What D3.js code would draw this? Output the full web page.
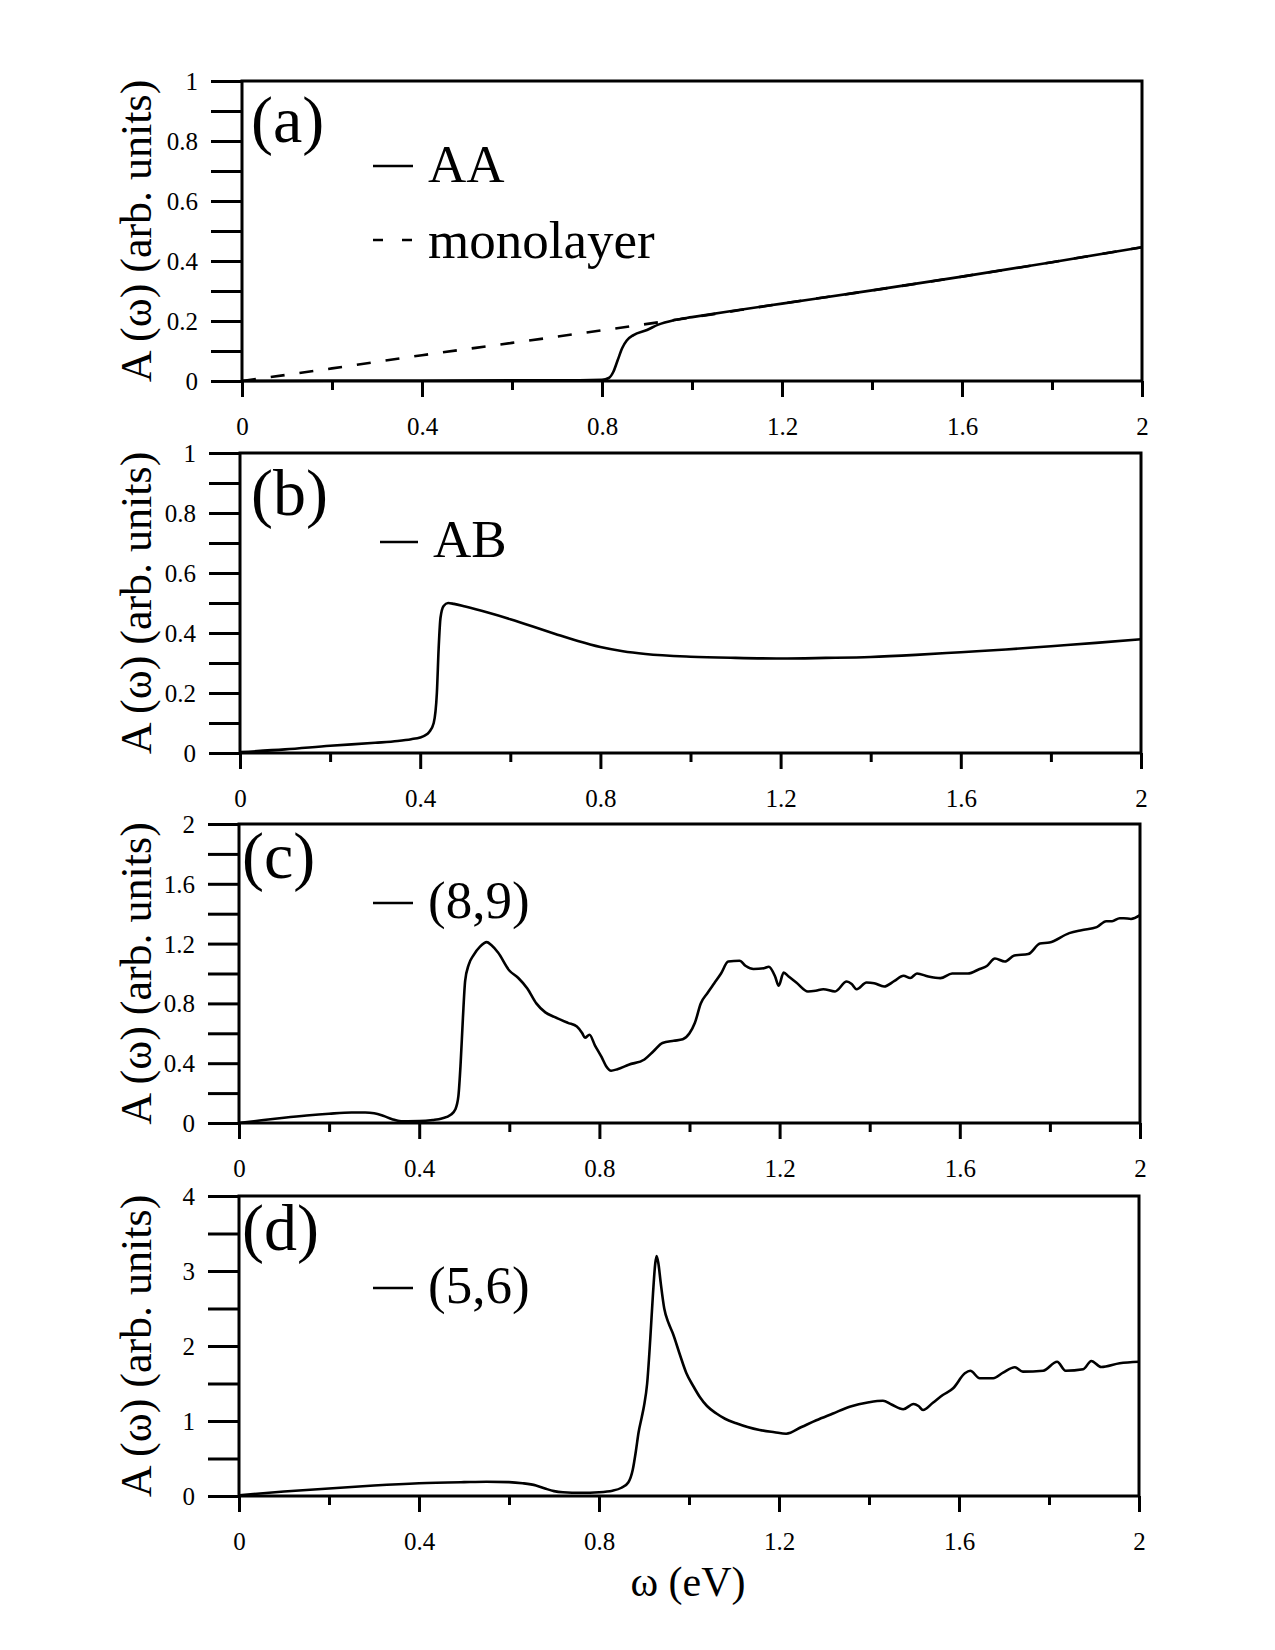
<!DOCTYPE html>
<html>
<head>
<meta charset="utf-8">
<script src="https://cdn.jsdelivr.net/npm/d3@7"></script>
<style>
  body { margin: 0; background: #fff; }
  svg text { font-family: "Liberation Serif", "Times New Roman", serif; fill: #000; }
</style>
</head>
<body>
<svg id="chart" width="1275" height="1650"></svg>
<script>
// ---------------- DATA ----------------
const xMajorTicks = [0, 0.4, 0.8, 1.2, 1.6, 2];
const xMinorTicks = [0.2, 0.6, 1.0, 1.4, 1.8];

const yTicksAB = [0, 0.2, 0.4, 0.6, 0.8, 1];
const yMinorAB = [0.1, 0.3, 0.5, 0.7, 0.9];
const yTicksC = [0, 0.4, 0.8, 1.2, 1.6, 2];
const yMinorC = [0.2, 0.6, 1.0, 1.4, 1.8];
const yTicksD = [0, 1, 2, 3, 4];
const yMinorD = [0.5, 1.5, 2.5, 3.5];

const panelLabels = ["(a)", "(b)", "(c)", "(d)"];
const yAxisTitle = "A (ω) (arb. units)";
const xAxisTitle = "ω (eV)";

// (a) AA bilayer
const aaOmega = [0, 0.2, 0.4, 0.6, 0.7, 0.8, 0.815, 0.825, 0.835, 0.845, 0.855, 0.87, 0.9, 0.925, 0.96, 1.0, 1.1, 1.2, 1.4, 1.6, 1.8, 2.0];
const aaA     = [0, 0.001, 0.001, 0.002, 0.002, 0.004, 0.01, 0.03, 0.07, 0.11, 0.135, 0.153, 0.17, 0.188, 0.203, 0.213, 0.236, 0.258, 0.302, 0.348, 0.396, 0.446];

// (a) monolayer
const monoOmega = [0, 0.2, 0.4, 0.6, 0.8, 1.0, 1.2, 1.4, 1.6, 1.8, 2.0];
const monoA     = [0, 0.042, 0.086, 0.127, 0.169, 0.212, 0.258, 0.302, 0.348, 0.396, 0.446];

// (b) AB bilayer
const abOmega = [0, 0.1, 0.2, 0.3, 0.35, 0.38, 0.4, 0.41, 0.42, 0.43, 0.437, 0.441, 0.445, 0.452, 0.462, 0.475, 0.5, 0.55, 0.6, 0.65, 0.7, 0.75, 0.8, 0.85, 0.9, 1.0, 1.1, 1.2, 1.3, 1.4, 1.5, 1.6, 1.7, 1.8, 1.9, 2.0];
const abA     = [0.003, 0.012, 0.024, 0.034, 0.04, 0.046, 0.052, 0.058, 0.07, 0.1, 0.2, 0.35, 0.45, 0.49, 0.5, 0.497, 0.488, 0.468, 0.446, 0.422, 0.397, 0.373, 0.353, 0.339, 0.33, 0.321, 0.317, 0.315, 0.317, 0.32, 0.327, 0.336, 0.345, 0.356, 0.367, 0.379];

// (c) twisted (8,9)
const c89Omega = [0, 0.05, 0.1, 0.15, 0.2, 0.25, 0.28, 0.3, 0.32, 0.34, 0.36, 0.4, 0.43, 0.45, 0.47, 0.48, 0.487, 0.492, 0.497, 0.502, 0.51, 0.52, 0.535, 0.55, 0.56, 0.575, 0.6, 0.62, 0.64, 0.66, 0.68, 0.7, 0.73, 0.75, 0.762, 0.768, 0.778, 0.79, 0.805, 0.815, 0.826, 0.84, 0.865, 0.9, 0.92, 0.94, 0.965, 0.985, 1.0, 1.012, 1.025, 1.04, 1.055, 1.07, 1.086, 1.111, 1.125, 1.142, 1.165, 1.176, 1.19, 1.198, 1.209, 1.22, 1.237, 1.263, 1.28, 1.297, 1.323, 1.349, 1.36, 1.371, 1.393, 1.41, 1.432, 1.455, 1.475, 1.49, 1.505, 1.53, 1.557, 1.583, 1.618, 1.644, 1.66, 1.678, 1.7, 1.721, 1.752, 1.778, 1.799, 1.843, 1.87, 1.904, 1.925, 1.938, 1.955, 1.964, 1.98, 2.0];
const c89A     = [0, 0.018, 0.035, 0.05, 0.062, 0.07, 0.07, 0.065, 0.048, 0.025, 0.012, 0.013, 0.02, 0.03, 0.055, 0.09, 0.18, 0.4, 0.7, 0.95, 1.06, 1.12, 1.18, 1.21, 1.19, 1.14, 1.02, 0.97, 0.9, 0.8, 0.74, 0.71, 0.67, 0.645, 0.6, 0.57, 0.59, 0.52, 0.44, 0.38, 0.35, 0.36, 0.39, 0.425, 0.48, 0.535, 0.55, 0.56, 0.6, 0.67, 0.8, 0.87, 0.935, 1.0, 1.08, 1.085, 1.05, 1.03, 1.035, 1.045, 0.98, 0.918, 1.006, 0.98, 0.94, 0.88, 0.885, 0.895, 0.88, 0.946, 0.93, 0.895, 0.94, 0.935, 0.913, 0.95, 0.985, 0.97, 1.0, 0.98, 0.969, 1.0, 1.0, 1.03, 1.05, 1.1, 1.08, 1.12, 1.13, 1.2, 1.207, 1.27, 1.29, 1.31, 1.35, 1.35, 1.37, 1.37, 1.365, 1.39];

// (d) twisted (5,6)
const d56Omega = [0, 0.1, 0.2, 0.3, 0.4, 0.5, 0.55, 0.6, 0.63, 0.66, 0.68, 0.7, 0.72, 0.76, 0.8, 0.83, 0.85, 0.865, 0.875, 0.882, 0.888, 0.895, 0.9, 0.907, 0.914, 0.92, 0.925, 0.928, 0.932, 0.937, 0.945, 0.955, 0.964, 0.98, 0.994, 1.01, 1.024, 1.04, 1.061, 1.08, 1.105, 1.13, 1.157, 1.19, 1.216, 1.25, 1.283, 1.32, 1.357, 1.4, 1.431, 1.45, 1.476, 1.499, 1.51, 1.52, 1.542, 1.564, 1.587, 1.613, 1.625, 1.646, 1.676, 1.698, 1.724, 1.742, 1.787, 1.818, 1.837, 1.876, 1.894, 1.916, 1.957, 2.0];
const d56A     = [0.01, 0.06, 0.1, 0.14, 0.17, 0.185, 0.19, 0.185, 0.17, 0.14, 0.1, 0.065, 0.05, 0.043, 0.05, 0.07, 0.11, 0.18, 0.35, 0.6, 0.85, 1.05, 1.2, 1.5, 2.1, 2.7, 3.1, 3.2, 3.1, 2.85, 2.5, 2.3, 2.17, 1.88, 1.64, 1.46, 1.32, 1.2, 1.1, 1.03, 0.97, 0.92, 0.88, 0.85, 0.83, 0.92, 1.01, 1.1, 1.19, 1.25, 1.27, 1.22, 1.156, 1.227, 1.2, 1.147, 1.244, 1.347, 1.436, 1.636, 1.67, 1.57, 1.57, 1.644, 1.716, 1.658, 1.67, 1.79, 1.67, 1.69, 1.8, 1.72, 1.77, 1.79];

// ---------------- LAYOUT ----------------
const FONT = '"Liberation Serif", "Times New Roman", serif';
const svg = d3.select("#chart");
const panels = [
  { left: 242, right: 1142, top: 81, bottom: 381, ymax: 1, ticks: yTicksAB, minor: yMinorAB,
    label: panelLabels[0], labelX: 251, labelY: 142,
    series: [
      { x: monoOmega, y: monoA, dash: "14,15" },
      { x: aaOmega, y: aaA, dash: null }
    ],
    legend: [
      { text: "AA", dash: null, y: 166, tx: 428, ty: 182 },
      { text: "monolayer", dash: "10,19", y: 240, tx: 428, ty: 258 }
    ] },
  { left: 240, right: 1141, top: 453, bottom: 753, ymax: 1, ticks: yTicksAB, minor: yMinorAB,
    label: panelLabels[1], labelX: 251, labelY: 515,
    series: [ { x: abOmega, y: abA, dash: null } ],
    legend: [ { text: "AB", dash: null, y: 542, x1: 380, x2: 418, tx: 433, ty: 557 } ] },
  { left: 239, right: 1140, top: 824, bottom: 1123, ymax: 2, ticks: yTicksC, minor: yMinorC,
    label: panelLabels[2], labelX: 242, labelY: 878,
    series: [ { x: c89Omega, y: c89A, dash: null } ],
    legend: [ { text: "(8,9)", dash: null, y: 903, tx: 428, ty: 918 } ] },
  { left: 239, right: 1139, top: 1196, bottom: 1496, ymax: 4, ticks: yTicksD, minor: yMinorD,
    label: panelLabels[3], labelX: 242, labelY: 1250,
    series: [ { x: d56Omega, y: d56A, dash: null } ],
    legend: [ { text: "(5,6)", dash: null, y: 1288, tx: 428, ty: 1303 } ] }
];

const AXW = 3;
panels.forEach((p, i) => {
  const x = d3.scaleLinear().domain([0, 2]).range([p.left, p.right]);
  const y = d3.scaleLinear().domain([0, p.ymax]).range([p.bottom, p.top]);
  const g = svg.append("g");

  // curves
  const line = d3.line().x(d => x(d[0])).y(d => y(d[1])).curve(d3.curveMonotoneX);
  p.series.forEach(s => {
    const pts = s.x.map((v, k) => [v, s.y[k]]);
    g.append("path").attr("d", line(pts))
      .attr("fill", "none").attr("stroke", "#000")
      .attr("stroke-width", 2.6)
      .attr("stroke-linejoin", "round")
      .attr("stroke-dasharray", s.dash);
  });

  // Y axis major
  const yAx = g.append("g").attr("transform", `translate(${p.left},0)`)
    .call(d3.axisLeft(y).tickValues(p.ticks).tickSize(31).tickSizeOuter(0).tickPadding(13)
      .tickFormat(d => String(d)));
  yAx.attr("font-family", FONT).attr("font-size", 25);
  yAx.select(".domain").remove();
  yAx.selectAll("line").attr("stroke-width", AXW);
  yAx.selectAll("text").style("font-family", FONT).style("font-size", "25px").attr("dy", "0.34em");
  // Y minor
  const yMin = g.append("g").attr("transform", `translate(${p.left},0)`)
    .call(d3.axisLeft(y).tickValues(p.minor).tickSize(31).tickSizeOuter(0).tickFormat(""));
  yMin.select(".domain").remove();
  yMin.selectAll("line").attr("stroke-width", AXW);

  // X axis major
  const xAx = g.append("g").attr("transform", `translate(0,${p.bottom})`)
    .call(d3.axisBottom(x).tickValues(xMajorTicks).tickSize(16).tickSizeOuter(0)
      .tickFormat(d => String(d)));
  xAx.attr("font-family", FONT).attr("font-size", 25);
  xAx.select(".domain").remove();
  xAx.selectAll("line").attr("stroke-width", AXW);
  xAx.selectAll("text").style("font-family", FONT).style("font-size", "25px")
    .attr("y", 54).attr("dy", "0");
  const xMin = g.append("g").attr("transform", `translate(0,${p.bottom})`)
    .call(d3.axisBottom(x).tickValues(xMinorTicks).tickSize(9).tickSizeOuter(0).tickFormat(""));
  xMin.select(".domain").remove();
  xMin.selectAll("line").attr("stroke-width", AXW);

  // frame
  g.append("rect").attr("x", p.left).attr("y", p.top)
    .attr("width", p.right - p.left).attr("height", p.bottom - p.top)
    .attr("fill", "none").attr("stroke", "#000").attr("stroke-width", AXW);

  // Y title
  g.append("text")
    .attr("transform", `translate(151,${(p.top + p.bottom) / 2}) rotate(-90)`)
    .attr("text-anchor", "middle").style("font-size", "44px")
    .text(yAxisTitle);

  // panel label
  g.append("text").attr("x", p.labelX).attr("y", p.labelY)
    .style("font-size", "66px").text(p.label);

  // legend
  p.legend.forEach(L => {
    g.append("line").attr("x1", L.x1 || 373).attr("x2", L.x2 || 413)
      .attr("y1", L.y).attr("y2", L.y)
      .attr("stroke", "#000").attr("stroke-width", 2.6)
      .attr("stroke-dasharray", L.dash);
    g.append("text").attr("x", L.tx).attr("y", L.ty)
      .style("font-size", "53px").text(L.text);
  });
});

// X title
svg.append("text").attr("x", 688).attr("y", 1596)
  .attr("text-anchor", "middle").style("font-size", "42px").text(xAxisTitle);
</script>
</body>
</html>
